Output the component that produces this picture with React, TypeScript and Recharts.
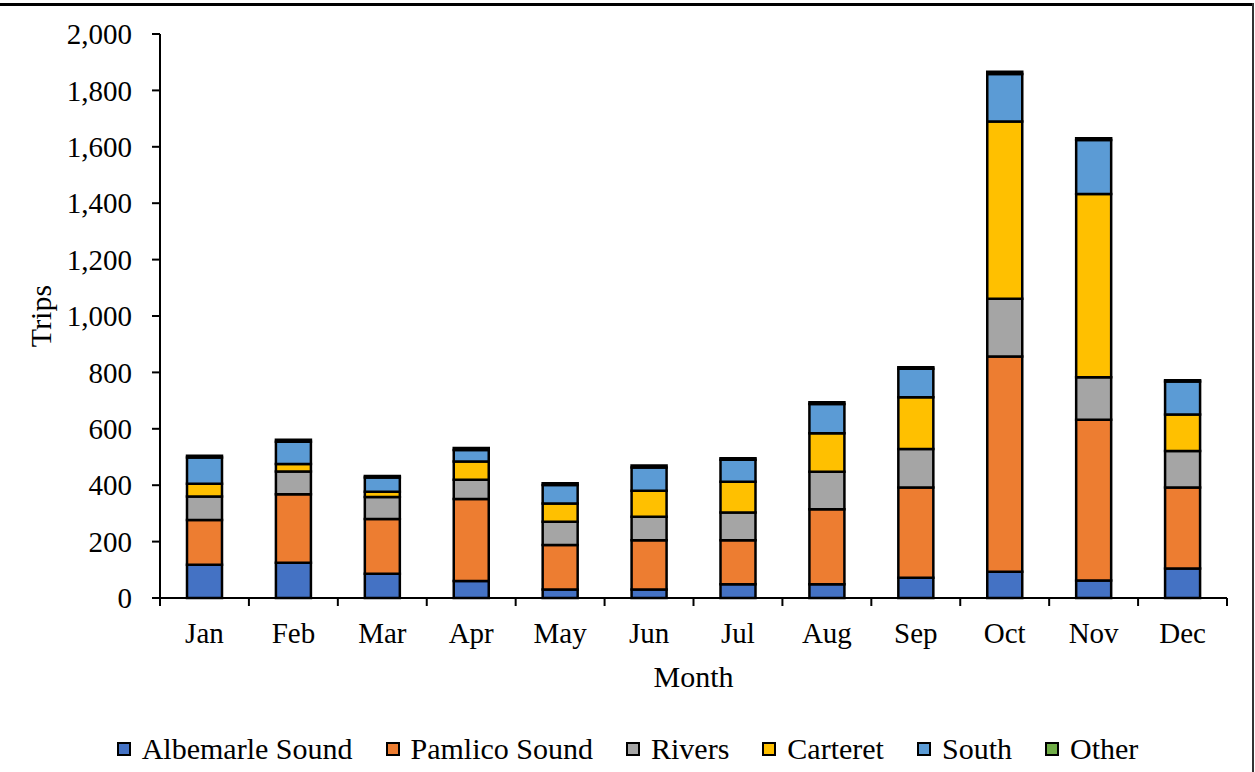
import React from 'react';
import { BarChart, Bar, XAxis, YAxis, Legend, Label } from 'recharts';

const months = ['Jan', 'Feb', 'Mar', 'Apr', 'May', 'Jun', 'Jul', 'Aug', 'Sep', 'Oct', 'Nov', 'Dec'];
const albemarle = [118, 125, 86, 60, 30, 30, 49, 49, 72, 93, 62, 105];
const pamlico = [159, 243, 194, 291, 158, 175, 156, 266, 320, 763, 570, 287];
const rivers = [83, 81, 78, 68, 82, 83, 98, 133, 136, 205, 151, 129];
const carteret = [45, 26, 19, 65, 65, 92, 109, 136, 184, 629, 650, 130];
const south = [93, 79, 50, 41, 66, 83, 78, 104, 101, 168, 191, 117];
const other = [6, 7, 6, 7, 6, 7, 6, 6, 5, 8, 6, 4];
const yTicks = [0, 200, 400, 600, 800, 1000, 1200, 1400, 1600, 1800, 2000];

const series = [
  { key: 'Albemarle Sound', values: albemarle, color: '#4472C4' },
  { key: 'Pamlico Sound', values: pamlico, color: '#ED7D31' },
  { key: 'Rivers', values: rivers, color: '#A5A5A5' },
  { key: 'Carteret', values: carteret, color: '#FFC000' },
  { key: 'South', values: south, color: '#5B9BD5' },
  { key: 'Other', values: other, color: '#70AD47' },
];

const data = months.map((m, i) => {
  const row: Record<string, any> = { month: m };
  series.forEach((s) => { row[s.key] = s.values[i]; });
  return row;
});

const W = 1255;
const H = 772;
const FONT = '"Liberation Serif", "Times New Roman", serif';
const margin = { top: 34, right: 28, left: 0, bottom: 3 };
const Y_AXIS_W = 160;
const BAND = (W - Y_AXIS_W - margin.right) / months.length;
const TICK_SIZE = 8;
const TICK_MARGIN = 17;

const MonthTick = (props: any) => {
  const { x, y, payload, index } = props;
  const top = y - TICK_SIZE - TICK_MARGIN;
  return (
    <g>
      <line x1={x - BAND / 2} x2={x - BAND / 2} y1={top} y2={top + TICK_SIZE} stroke="#000" strokeWidth={2} />
      {index === months.length - 1 && (
        <line x1={x + BAND / 2} x2={x + BAND / 2} y1={top} y2={top + TICK_SIZE} stroke="#000" strokeWidth={2} />
      )}
      <text x={x} y={y + 20} textAnchor="middle" fontSize={29} fontFamily={FONT} fill="#000">
        {payload.value}
      </text>
    </g>
  );
};

const MonthLabel = (props: any) => {
  const { x, y, width } = props.viewBox;
  return (
    <text x={x + width / 2} y={y + 89} textAnchor="middle" fontSize={30} fontFamily={FONT} fill="#000">
      Month
    </text>
  );
};

const TripsLabel = (props: any) => {
  const { x, y, height } = props.viewBox;
  const cx = x + 40;
  const cy = y + height / 2;
  return (
    <text x={cx} y={cy} transform={`rotate(-90, ${cx}, ${cy})`} textAnchor="middle" dominantBaseline="central"
      fontSize={30} fontFamily={FONT} fill="#000">
      Trips
    </text>
  );
};

const LegendContent = () => (
  <div style={{ display: 'flex', justifyContent: 'center', alignItems: 'center', height: 40, fontFamily: FONT, fontSize: 30, color: '#000', gap: 33 }}>
    {series.map((s) => (
      <div key={s.key} style={{ display: 'flex', alignItems: 'center', gap: 11 }}>
        <span style={{ width: 10, height: 10, background: s.color, border: '2.5px solid #000', display: 'inline-block' }} />
        <span style={{ whiteSpace: 'nowrap' }}>{s.key}</span>
      </div>
    ))}
  </div>
);

export default function App() {
  return (
    <div style={{ position: 'absolute', left: 0, top: 0, width: W, height: H, background: '#fff' }}>
      <div style={{ position: 'absolute', left: 0, top: 3, width: 1254, height: 3, background: '#000' }} />
      <div style={{ position: 'absolute', left: 1252, top: 3, width: 2, height: H - 3, background: '#333' }} />
      <BarChart width={W} height={H} data={data} margin={margin} barSize={35}>
        <XAxis
          dataKey="month"
          height={H - 598 - margin.bottom - 40}
          axisLine={{ stroke: '#000', strokeWidth: 2 }}
          tickLine={false}
          tickSize={TICK_SIZE}
          tickMargin={TICK_MARGIN}
          tick={<MonthTick />}
          interval={0}
        >
          <Label content={<MonthLabel />} />
        </XAxis>
        <YAxis
          width={Y_AXIS_W}
          domain={[0, 2000]}
          ticks={yTicks}
          interval={0}
          tickFormatter={(v: number) => v.toLocaleString('en-US')}
          axisLine={{ stroke: '#000', strokeWidth: 2 }}
          tickLine={{ stroke: '#000', strokeWidth: 2 }}
          tickSize={TICK_SIZE}
          tickMargin={20}
          tick={{ fill: '#000', fontSize: 29, fontFamily: FONT }}
        >
          <Label content={<TripsLabel />} />
        </YAxis>
        <Legend
          verticalAlign="bottom"
          content={<LegendContent />}
          wrapperStyle={{ left: 0, width: W, bottom: 3, height: 40 }}
        />
        {series.map((s) => (
          <Bar
            key={s.key}
            dataKey={s.key}
            stackId="trips"
            fill={s.color}
            stroke="#000"
            strokeWidth={2.5}
            isAnimationActive={false}
          />
        ))}
      </BarChart>
    </div>
  );
}
